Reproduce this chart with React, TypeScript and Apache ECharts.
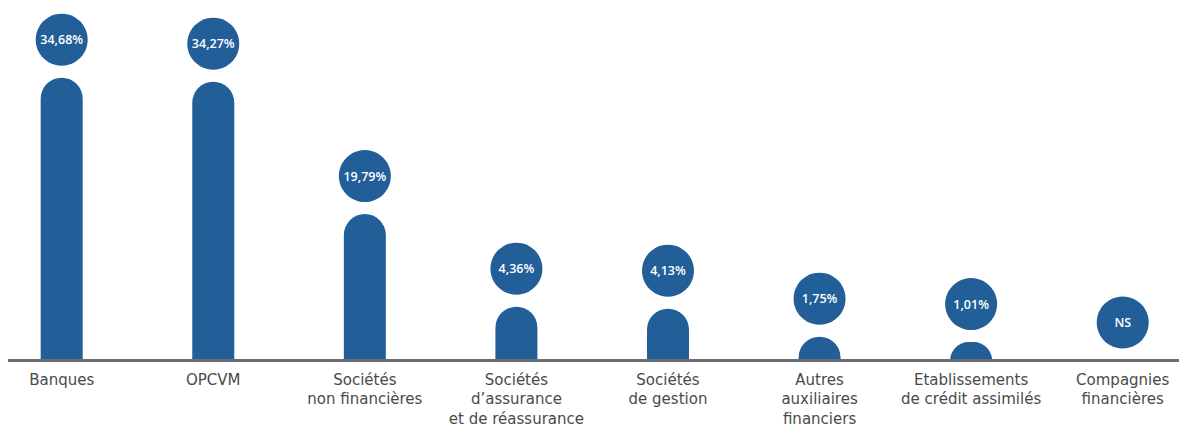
import React, { useEffect, useRef } from "react";
import * as echarts from "echarts";

const categories = [
  "Banques",
  "OPCVM",
  "Sociétés\nnon financières",
  "Sociétés\nd’assurance\net de réassurance",
  "Sociétés\nde gestion",
  "Autres\nauxiliaires\nfinanciers",
  "Etablissements\nde crédit assimilés",
  "Compagnies\nfinancières",
];
// Share labels as printed in the circles
const shareLabels = ["34,68%", "34,27%", "19,79%", "4,36%", "4,13%", "1,75%", "1,01%", "NS"];
// Drawn bar heights (axis units)
const barHeights = [35.35, 34.85, 18.31, 6.73, 6.48, 2.98, 2.31, 0];

const BLUE = "#225e97";

export default function App() {
  const ref = useRef<HTMLDivElement>(null);
  useEffect(() => {
    if (!ref.current) return;
    const chart = echarts.init(ref.current, null, { renderer: "svg" });
    chart.setOption({
      animation: false,
      grid: {
        left: -22.1,
        width: 1212.6,
        top: 0.5,
        bottom: 67.5,
        containLabel: false,
        outerBoundsMode: "none",
      },
      xAxis: {
        type: "category",
        data: categories,
        axisLine: { show: true, lineStyle: { color: "#6d6e71", width: 3 } },
        axisTick: { show: false },
        axisLabel: {
          interval: 0,
          margin: 9.5,
          fontFamily: "DejaVu Sans",
          fontSize: 15,
          lineHeight: 19.5,
          color: "#4a4a4a",
          align: "center",
        },
        z: 10,
      },
      yAxis: {
        type: "value",
        min: 0,
        max: 45,
        show: false,
        splitLine: { show: false },
      },
      series: [
        {
          type: "bar",
          data: barHeights,
          barWidth: 42,
          itemStyle: { color: BLUE, borderRadius: [21, 21, 0, 0] },
          z: 2,
        },
        {
          type: "scatter",
          data: barHeights.map((v, i) => ({ value: v, name: shareLabels[i] })),
          symbol: "circle",
          symbolSize: 52,
          symbolOffset: [0, -38],
          clip: false,
          itemStyle: { color: BLUE, opacity: 1 },
          label: {
            show: true,
            position: "inside",
            formatter: (p: any) => shareLabels[p.dataIndex],
            color: "#ffffff",
            fontFamily: "Open Sans",
            fontWeight: 600,
            fontSize: 12.5,
          },
          z: 3,
        },
      ],
    });
    return () => chart.dispose();
  }, []);
  return (
    <div
      ref={ref}
      style={{ position: "absolute", left: 8, top: 0, width: 1171, height: 428, overflow: "hidden" }}
    />
  );
}
